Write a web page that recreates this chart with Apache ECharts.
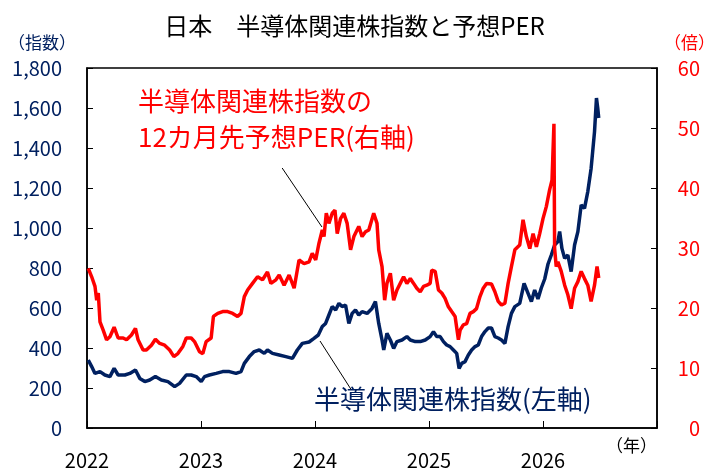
<!DOCTYPE html>
<html>
<head>
<meta charset="utf-8">
<script src="https://cdn.jsdelivr.net/npm/echarts@6/dist/echarts.min.js"></script>
<style>
  html, body { margin: 0; padding: 0; background: #fff; }
  #chart { width: 709px; height: 473px; }
</style>
</head>
<body>
<div id="chart"></div>
<script>
// 年（小数表記）と値
const perT = [
  2022.011, 2022.041, 2022.070, 2022.085, 2022.099, 2022.114, 2022.142, 2022.172, 2022.201, 2022.238,
  2022.273, 2022.317, 2022.347, 2022.390, 2022.425, 2022.448, 2022.492, 2022.521, 2022.565, 2022.600,
  2022.638, 2022.681, 2022.725, 2022.762, 2022.797, 2022.841, 2022.871, 2022.914, 2022.943, 2022.987,
  2023.016, 2023.045, 2023.089, 2023.109, 2023.147, 2023.190, 2023.234, 2023.278, 2023.321, 2023.351,
  2023.380, 2023.409, 2023.452, 2023.496, 2023.540, 2023.583, 2023.613, 2023.657, 2023.686, 2023.729,
  2023.773, 2023.817, 2023.860, 2023.904, 2023.948, 2023.976, 2024.006, 2024.035, 2024.064, 2024.079,
  2024.099, 2024.122, 2024.151, 2024.175, 2024.195, 2024.224, 2024.253, 2024.282, 2024.312, 2024.341,
  2024.384, 2024.413, 2024.443, 2024.472, 2024.515, 2024.544, 2024.559, 2024.588, 2024.611, 2024.631,
  2024.661, 2024.690, 2024.719, 2024.748, 2024.777, 2024.806, 2024.836, 2024.865, 2024.893, 2024.923,
  2024.952, 2024.981, 2025.010, 2025.024, 2025.054, 2025.083, 2025.112, 2025.141, 2025.170, 2025.199,
  2025.229, 2025.258, 2025.273, 2025.301, 2025.330, 2025.360, 2025.389, 2025.417, 2025.447, 2025.476,
  2025.505, 2025.548, 2025.578, 2025.607, 2025.636, 2025.666, 2025.694, 2025.723, 2025.753, 2025.796,
  2025.825, 2025.854, 2025.884, 2025.913, 2025.942, 2025.971, 2026.000, 2026.029, 2026.058, 2026.079,
  2026.096, 2026.102, 2026.116, 2026.131, 2026.160, 2026.190, 2026.218, 2026.247, 2026.277, 2026.306,
  2026.335, 2026.364, 2026.393, 2026.422, 2026.452, 2026.474, 2026.489
];
const perVal = [
  26.6, 25.2, 23.6, 21.3, 22.5, 17.7, 16.3, 14.7, 15.2, 16.8,
  15.0, 15.0, 14.7, 15.5, 16.6, 14.7, 13.0, 13.0, 13.8, 14.8,
  14.1, 13.8, 13.0, 11.9, 12.4, 13.6, 15.0, 15.0, 14.4, 12.7,
  12.4, 14.4, 15.0, 18.6, 19.1, 19.4, 19.4, 19.1, 18.6, 19.1,
  21.9, 23.0, 24.1, 25.2, 24.7, 26.0, 24.1, 24.7, 25.5, 23.8,
  25.5, 23.3, 28.0, 27.4, 27.7, 29.1, 28.0, 30.8, 33.0, 31.9,
  35.8, 34.1, 35.8, 36.3, 32.4, 34.9, 35.8, 34.1, 29.7, 31.9,
  33.6, 31.9, 32.7, 33.0, 35.8, 34.1, 29.7, 26.9, 21.3, 24.1,
  25.8, 21.3, 23.0, 24.1, 25.2, 24.1, 24.9, 24.1, 23.3, 22.7,
  23.6, 23.8, 24.1, 26.3, 26.1, 23.0, 22.5, 21.6, 20.2, 19.4,
  18.6, 14.7, 16.3, 17.2, 17.4, 19.1, 19.4, 19.9, 21.9, 23.3,
  24.1, 24.0, 22.7, 21.1, 20.5, 20.8, 24.1, 26.9, 29.7, 30.5,
  34.7, 31.9, 29.9, 32.4, 30.2, 32.4, 34.9, 36.9, 39.7, 41.3,
  50.7, 29.9, 26.9, 27.7, 26.1, 23.8, 22.2, 19.9, 23.3, 24.4,
  26.1, 24.9, 23.8, 21.1, 23.8, 26.9, 25.0
];

const idxT = [
  2022.011, 2022.041, 2022.070, 2022.114, 2022.157, 2022.201, 2022.238, 2022.273, 2022.332, 2022.376,
  2022.425, 2022.463, 2022.507, 2022.550, 2022.600, 2022.652, 2022.710, 2022.769, 2022.812, 2022.871,
  2022.914, 2022.958, 2023.002, 2023.031, 2023.074, 2023.133, 2023.190, 2023.249, 2023.307, 2023.351,
  2023.380, 2023.424, 2023.467, 2023.511, 2023.555, 2023.583, 2023.627, 2023.686, 2023.744, 2023.802,
  2023.845, 2023.889, 2023.948, 2023.991, 2024.029, 2024.064, 2024.093, 2024.122, 2024.151, 2024.181,
  2024.210, 2024.238, 2024.268, 2024.297, 2024.326, 2024.355, 2024.384, 2024.413, 2024.457, 2024.500,
  2024.530, 2024.559, 2024.588, 2024.603, 2024.631, 2024.661, 2024.690, 2024.719, 2024.763, 2024.806,
  2024.836, 2024.880, 2024.923, 2024.967, 2025.010, 2025.039, 2025.068, 2025.098, 2025.127, 2025.155,
  2025.185, 2025.214, 2025.243, 2025.264, 2025.287, 2025.316, 2025.345, 2025.374, 2025.404, 2025.432,
  2025.461, 2025.491, 2025.520, 2025.548, 2025.578, 2025.607, 2025.636, 2025.666, 2025.694, 2025.723,
  2025.753, 2025.796, 2025.834, 2025.869, 2025.898, 2025.927, 2025.956, 2025.985, 2026.015, 2026.044,
  2026.073, 2026.102, 2026.131, 2026.146, 2026.166, 2026.190, 2026.218, 2026.247, 2026.277, 2026.306,
  2026.335, 2026.364, 2026.393, 2026.422, 2026.452, 2026.469, 2026.480, 2026.489
];
const idxVal = [
  340, 307, 273, 282, 265, 257, 298, 265, 265, 273,
  290, 248, 232, 240, 257, 240, 232, 207, 223, 265,
  265, 257, 232, 257, 265, 273, 282, 282, 273, 282,
  323, 357, 382, 390, 373, 390, 373, 365, 357, 348,
  390, 423, 430, 448, 465, 507, 523, 565, 607, 590,
  623, 607, 615, 523, 573, 590, 565, 582, 573, 598,
  632, 523, 440, 390, 473, 440, 398, 432, 440, 457,
  440, 432, 432, 440, 457, 482, 457, 457, 432, 415,
  407, 390, 373, 298, 323, 332, 365, 390, 407, 415,
  457, 482, 500, 500, 457, 450, 440, 423, 507, 573,
  607, 623, 723, 673, 632, 690, 645, 700, 745, 820,
  865, 915, 932, 982, 898, 848, 865, 782, 915, 982,
  1115, 1098, 1182, 1298, 1482, 1650, 1600, 1550
];

const yearLabels = [2022, 2023, 2024, 2025, 2026];
const NAVY = "#002060";
const RED = "#FF0000";
const FONT = "Noto Sans CJK JP";

const chart = echarts.init(document.getElementById("chart"));

const toPairs = (t, v) => t.map((x, i) => [x, v[i]]);

const option = {
  animation: false,
  backgroundColor: "#fff",
  textStyle: { fontFamily: FONT },
  title: {
    text: "日本　半導体関連株指数と予想PER",
    left: "center",
    top: 9,
    textStyle: { fontSize: 24, fontWeight: "normal", color: "#000", fontFamily: FONT },
  },
  grid: { left: 87, right: 52, top: 68, bottom: 45, show: true, borderColor: "#000", borderWidth: 1.5 },
  xAxis: {
    type: "value",
    min: 2022,
    max: 2027,
    interval: 1,
    axisLine: { lineStyle: { color: "#000", width: 1.5 } },
    axisTick: { inside: true, length: 7, lineStyle: { color: "#000" } },
    splitLine: { show: false },
    axisLabel: {
      margin: 22,
      fontSize: 20,
      color: "#000",
      formatter: (v) => (yearLabels.indexOf(v) >= 0 ? String(v) : ""),
    },
  },
  yAxis: [
    {
      type: "value",
      min: 0,
      max: 1800,
      interval: 200,
      axisLine: { show: true, lineStyle: { color: "#000", width: 1.5 } },
      axisTick: { show: true, inside: true, length: 6, lineStyle: { color: "#000" } },
      splitLine: { show: false },
      axisLabel: {
        margin: 25,
        fontSize: 20,
        color: NAVY,
        formatter: (v) => v.toLocaleString("en-US"),
      },
    },
    {
      type: "value",
      min: 0,
      max: 60,
      interval: 10,
      position: "right",
      axisLine: { show: true, lineStyle: { color: "#000", width: 1.5 } },
      axisTick: { show: true, inside: true, length: 6, lineStyle: { color: "#000" } },
      splitLine: { show: false },
      axisLabel: { margin: 43, align: "right", fontSize: 20, color: RED },
    },
  ],
  series: [
    {
      name: "半導体関連株指数",
      type: "line",
      yAxisIndex: 0,
      data: toPairs(idxT, idxVal),
      symbol: "none",
      lineStyle: { color: NAVY, width: 3.5 },
      markLine: {
        silent: true,
        symbol: "none",
        label: { show: false },
        lineStyle: { color: "#000", width: 1, type: "solid" },
        data: [
          // 引き出し線（PER）
          [{ coord: [2023.712, 1300] }, { coord: [2024.061, 1005] }],
          // 引き出し線（指数）
          [{ coord: [2024.044, 435] }, { coord: [2024.314, 195] }],
        ],
      },
    },
    {
      name: "予想PER",
      type: "line",
      yAxisIndex: 1,
      data: toPairs(perT, perVal),
      symbol: "none",
      lineStyle: { color: RED, width: 3.5 },
    },
  ],
  graphic: [
    { type: "text", left: 8, top: 34, style: { text: "（指数）", fontSize: 17, fill: NAVY, fontFamily: FONT } },
    { type: "text", left: 664, top: 34, style: { text: "（倍）", fontSize: 17, fill: RED, fontFamily: FONT } },
    { type: "text", left: 606, top: 437, style: { text: "（年）", fontSize: 17, fill: "#000", fontFamily: FONT } },
    { type: "text", left: 138, top: 88, style: { text: "半導体関連株指数の", fontSize: 26, fill: RED, fontFamily: FONT } },
    { type: "text", left: 138, top: 124, style: { text: "12カ月先予想PER(右軸)", fontSize: 26, fill: RED, fontFamily: FONT } },
    { type: "text", left: 314, top: 386, style: { text: "半導体関連株指数(左軸)", fontSize: 26, fill: NAVY, fontFamily: FONT } },
  ],
};

chart.setOption(option);
</script>
</body>
</html>
